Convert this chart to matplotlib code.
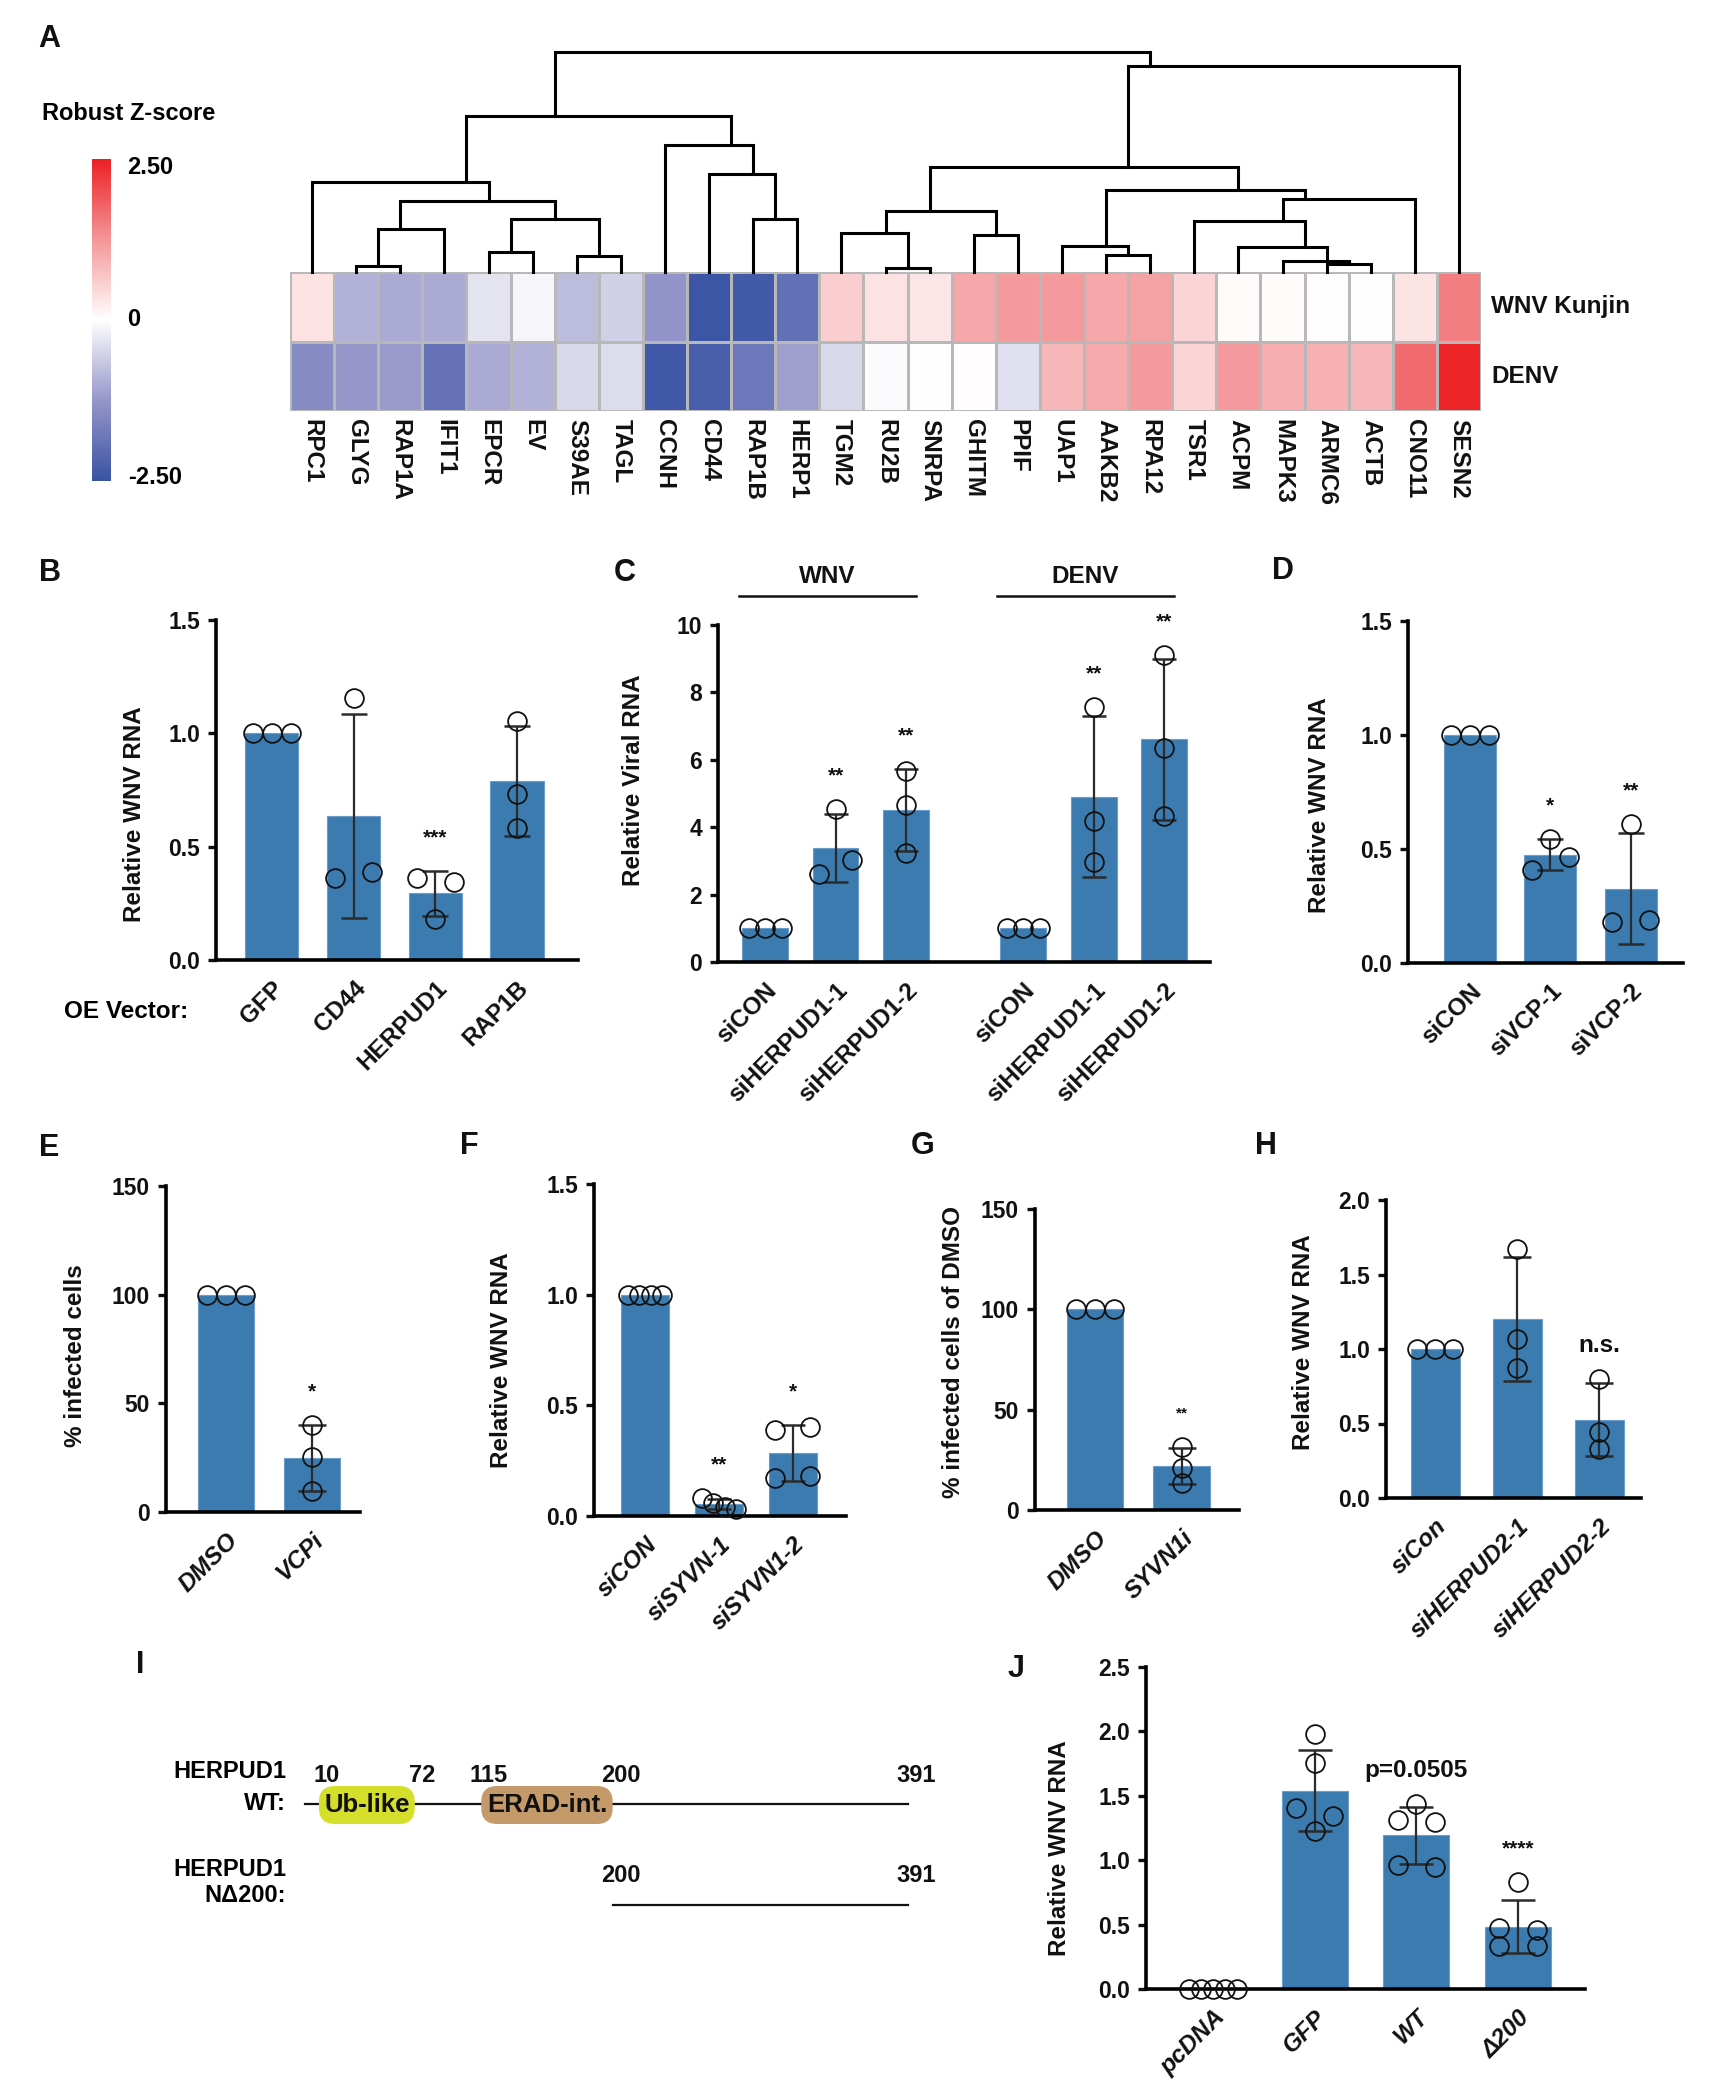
"""Multi-panel HERPUD1 / ERAD figure (A-J), rebuilt from values read off the figure."""

import matplotlib

matplotlib.use("Agg")
import matplotlib.pyplot as plt
import numpy as np
from matplotlib.cm import ScalarMappable
from matplotlib.colors import LinearSegmentedColormap, Normalize
from matplotlib.patches import FancyBboxPatch
from matplotlib.transforms import blended_transform_factory

W, H = 1709, 2100
BAR = "#3b7bb0"
BAR_EDGE = "#6d9ecb"
INK = "#111111"
ERR = "#2b2b2b"

plt.rcParams["font.family"] = ["Liberation Sans", "DejaVu Sans"]
plt.rcParams["font.weight"] = "bold"
plt.rcParams["axes.labelweight"] = "bold"

# --- Panel A: robust Z-scores ---------------------------------------------
GENES = ["RPC1", "GLYG", "RAP1A", "IFIT1", "EPCR", "EV", "S39AE", "TAGL", "CCNH",
         "CD44", "RAP1B", "HERP1", "TGM2", "RU2B", "SNRPA", "GHITM", "PPIF",
         "UAP1", "AAKB2", "RPA12", "TSR1", "ACPM", "MAPK3", "ARMC6", "ACTB",
         "CNO11", "SESN2"]
WNV_Z = [0.35, -0.9, -1.0, -1.0, -0.33, -0.1, -0.8, -0.55, -1.3, -2.45, -2.35,
         -1.95, 0.6, 0.35, 0.3, 1.05, 1.2, 1.2, 1.05, 1.1, 0.5, 0.05, 0.04,
         -0.03, 0.0, 0.32, 1.5]
DENV_Z = [-1.45, -1.25, -1.2, -1.9, -1.0, -0.9, -0.45, -0.42, -2.4, -2.3, -1.8,
          -1.15, -0.45, -0.04, 0.0, 0.03, -0.38, 0.85, 1.0, 1.2, 0.5, 1.2, 0.95,
          0.92, 0.85, 1.7, 2.45]
ROWS = ["WNV Kunjin", "DENV"]
# column dendrogram: (node, left child, right child, merge height)
MERGES = [
    ("a1", 1, 2, 17), ("a2", "a1", 3, 129), ("a3", 4, 5, 61), ("a4", 6, 7, 49),
    ("a5", "a3", "a4", 159), ("a6", "a2", "a5", 211), ("a7", 0, "a6", 270),
    ("b1", 10, 11, 160), ("b2", 9, "b1", 294), ("b3", 8, "b2", 379),
    ("L", "a7", "b3", 468),
    ("c1", 13, 14, 13), ("c2", 12, "c1", 118), ("c3", 15, 16, 112),
    ("c4", "c2", "c3", 183), ("d1", 18, 19, 50), ("d2", 17, "d1", 77),
    ("e1", 23, 24, 23), ("e2", 22, "e1", 32), ("e3", 21, "e2", 75),
    ("e4", 20, "e3", 153), ("e5", "e4", 25, 219), ("d3", "d2", "e5", 245),
    ("c5", "c4", "d3", 315), ("R", "c5", 26, 615),
    ("root", "L", "R", 658),
]

# --- bar panels: individual replicate values --------------------------------
B_LABELS = ["GFP", "CD44", "HERPUD1", "RAP1B"]
B_POINTS = [[1.0, 1.0, 1.0], [1.157, 0.362, 0.389], [0.362, 0.342, 0.181],
            [1.055, 0.732, 0.583]]
B_STARS = ["", "", "***", ""]

C_LABELS = ["siCON", "siHERPUD1-1", "siHERPUD1-2"] * 2
C_POINTS = [[1.0, 1.0, 1.0], [4.53, 2.61, 3.02], [5.66, 4.66, 3.23],
            [1.0, 1.0, 1.0], [7.57, 4.18, 2.96], [9.12, 6.35, 4.34]]
C_STARS = ["", "**", "**", "", "**", "**"]
C_GROUPS = ["WNV", "DENV"]

D_LABELS = ["siCON", "siVCP-1", "siVCP-2"]
D_POINTS = [[1.0, 1.0, 1.0], [0.545, 0.41, 0.467], [0.608, 0.182, 0.188]]
D_STARS = ["", "*", "**"]

E_LABELS = ["DMSO", "VCPi"]
E_POINTS = [[100, 100, 100], [40.0, 25.5, 9.6]]
E_STARS = ["", "*"]

F_LABELS = ["siCON", "siSYVN-1", "siSYVN1-2"]
F_POINTS = [[1.0, 1.0, 1.0, 1.0], [0.08, 0.06, 0.04, 0.03],
            [0.39, 0.40, 0.17, 0.18]]
F_STARS = ["", "**", "*"]

G_LABELS = ["DMSO", "SYVN1i"]
G_POINTS = [[100, 100, 100], [31.5, 21.0, 13.5]]
G_STARS = ["", "**"]

H_LABELS = ["siCon", "siHERPUD2-1", "siHERPUD2-2"]
H_POINTS = [[1.0, 1.0, 1.0], [1.67, 1.07, 0.87], [0.80, 0.445, 0.33]]
H_STARS = ["", "", "n.s."]

J_LABELS = ["pcDNA", "GFP", "WT", "\u0394200"]
J_POINTS = [[0.0, 0.0, 0.0, 0.0, 0.0], [1.98, 1.755, 1.405, 1.34, 1.225],
            [1.44, 1.31, 1.30, 0.96, 0.95], [0.83, 0.47, 0.46, 0.33, 0.33]]
J_STARS = ["", "", "p=0.0505", "****"]

# --- Panel I: HERPUD1 domain map (amino-acid positions) ---------------------
PROTEIN_LEN = 391
DOMAINS = [("Ub-like", 10, 72, "#d5df2b"), ("ERAD-int.", 115, 200, "#c49a6a")]
WT_MARKS = [10, 72, 115, 200, 391]
TRUNC_START = 200


def px_axes(fig, left, top, right, bottom):
    return fig.add_axes([left / W, 1 - bottom / H, (right - left) / W,
                         (bottom - top) / H])


def ftext(fig, x, y, s, **kw):
    fig.text(x / W, 1 - y / H, s, **kw)


def point_offsets(values, px_y, d, bw_px):
    """Pixel x-offsets so that points of nearly equal value sit side by side."""
    values = np.asarray(values, dtype=float)
    order = np.argsort(values, kind="stable")
    clusters, cur = [], [order[0]]
    for i in order[1:]:
        if (values[i] - values[cur[-1]]) * px_y < 0.75 * d:
            cur.append(i)
        else:
            clusters.append(cur)
            cur = [i]
    clusters.append(cur)
    off = np.zeros(len(values))
    for c in clusters:
        c = sorted(c)
        k = len(c)
        if k == 2:
            s = min(d, 0.36 * bw_px)
            off[c[0]], off[c[1]] = -s, s
        elif k > 2:
            step = min(d, 0.72 * bw_px / (k - 1))
            for j, i in enumerate(c):
                off[i] = (j - (k - 1) / 2) * step
    return off


def bar_panel(fig, box, labels, points, stars, ylim, yticks, fmt, ylabel,
              ylabel_at, xlim, positions=None, italic=False, star_size=15,
              width=0.65, ms=13.5):
    left, top, right, bottom = box
    ax = px_axes(fig, left, top, right, bottom)
    x = np.arange(len(labels)) if positions is None else np.asarray(positions)
    ax.set_xlim(*xlim)
    ax.set_ylim(*ylim)
    px_x = ax.bbox.width / (xlim[1] - xlim[0])
    px_y = ax.bbox.height / (ylim[1] - ylim[0])
    d = ms * 100 / 72
    cap = 0.165 * px_x * 72 / 100

    for xi, pts, star in zip(x, points, stars):
        pts = np.asarray(pts, dtype=float)
        mean = pts.mean()
        sd = pts.std(ddof=1)
        ax.bar(xi, mean, width=width, color=BAR, edgecolor=BAR_EDGE,
               linewidth=0.8, zorder=2)
        if sd > 0:
            ax.errorbar(xi, mean, yerr=sd, fmt="none", ecolor=ERR, elinewidth=1.6,
                        capsize=cap, capthick=1.8, zorder=3)
        off = point_offsets(pts, px_y, d, width * px_x) / px_x
        ax.plot(xi + off, pts, "o", ms=ms, mfc="none", mec=INK, mew=1.3,
                zorder=4, clip_on=False)
        if star:
            top_val = max(pts.max(), mean + sd)
            size = star_size if star.startswith("*") else 17.5
            ax.annotate(star, (xi, top_val), xytext=(0, 33),
                        textcoords="offset pixels", ha="center", va="center",
                        fontsize=size, color=INK)

    for side in ("top", "right"):
        ax.spines[side].set_visible(False)
    for side in ("left", "bottom"):
        ax.spines[side].set_linewidth(2.6)
        ax.spines[side].set_color("black")
    ax.set_yticks(yticks)
    ax.set_yticklabels([fmt.format(t) for t in yticks], fontsize=16.5)
    ax.tick_params(axis="y", direction="out", length=5.5, width=2.4, pad=6,
                   colors=INK)
    ax.set_xticks(x)
    ax.set_xticklabels(labels, rotation=45, ha="right", va="top",
                       rotation_mode="anchor", fontsize=17.5,
                       style="italic" if italic else "normal")
    ax.tick_params(axis="x", length=0, pad=12, colors=INK)
    ax.set_ylabel(ylabel, fontsize=17.5, color=INK)
    ax.yaxis.label.set_va("center")
    lx, ly = ylabel_at
    ax.yaxis.set_label_coords((lx - left) / (right - left),
                              (bottom - ly) / (bottom - top))
    ax.set_facecolor("none")
    return ax


def panel_a(fig):
    cmap = LinearSegmentedColormap.from_list(
        "robust_z", [(0, "#3953a4"), (0.25, "#9696ca"), (0.5, "#ffffff"),
                     (0.75, "#f49698"), (1, "#ed2024")])
    norm = Normalize(-2.5, 2.5)
    n = len(GENES)

    ax = px_axes(fig, 290, 272, 1481, 411)
    ax.pcolormesh(np.array([WNV_Z, DENV_Z]), cmap=cmap, norm=norm,
                  edgecolors="#b8b8b8", linewidth=0.8)
    ax.set_xlim(0, n)
    ax.set_ylim(2, 0)
    ax.axis("off")
    for i, gene in enumerate(GENES):
        ax.annotate(gene, (i + 0.5, 2), xytext=(0, -8), textcoords="offset pixels",
                    rotation=-90, ha="center", va="top", fontsize=17.5, color=INK)
    for j, row in enumerate(ROWS):
        ax.annotate(row, (n, j + 0.5), xytext=(10, 0), textcoords="offset pixels",
                    ha="left", va="center", fontsize=17.5, color=INK)

    dax = px_axes(fig, 290, 52, 1481, 272)
    leaves = {i: [i] for i in range(n)}
    height = {i: 0.0 for i in range(n)}
    for node, a, b, h in MERGES:
        xa, xb = np.mean(leaves[a]) + 0.5, np.mean(leaves[b]) + 0.5
        dax.plot([xa, xa, xb, xb], [height[a], h, h, height[b]], color="black",
                 lw=2.2, solid_joinstyle="miter", clip_on=False)
        leaves[node] = leaves[a] + leaves[b]
        height[node] = h
    dax.set_xlim(0, n)
    dax.set_ylim(0, height["root"])
    dax.axis("off")

    cax = px_axes(fig, 92, 159, 111, 481)
    cb = fig.colorbar(ScalarMappable(norm=norm, cmap=cmap), cax=cax)
    cb.outline.set_visible(False)
    cb.set_ticks([])
    ftext(fig, 129, 114, "Robust Z-score", ha="center", va="center", fontsize=17)
    ftext(fig, 127, 167, "2.50", ha="left", va="center", fontsize=17)
    ftext(fig, 127, 319, "0", ha="left", va="center", fontsize=17)
    ftext(fig, 128, 478, "-2.50", ha="left", va="center", fontsize=17)


def panel_i(fig):
    ax = px_axes(fig, 305, 1740, 908, 1940)
    ax.set_xlim(1, PROTEIN_LEN)
    ax.set_ylim(1940, 1740)
    ax.axis("off")
    px_per_aa = ax.bbox.width / (PROTEIN_LEN - 1)
    ax.plot([1, PROTEIN_LEN], [1804, 1804], color=INK, lw=1.6, clip_on=False)
    for name, start, end, color in DOMAINS:
        ax.add_patch(FancyBboxPatch(
            (start, 1786), end - start, 38,
            boxstyle=f"round,pad=0,rounding_size={16 / px_per_aa:.2f}",
            mutation_aspect=px_per_aa, facecolor=color, edgecolor="none",
            zorder=3))
        ax.text((start + end) / 2, 1805, name, ha="center", va="center",
                fontsize=18.5, color=INK, zorder=4)
    for aa in WT_MARKS:
        ax.text(aa + 5, 1775, str(aa), ha="center", va="center", fontsize=17,
                color=INK, clip_on=False)
    ax.plot([TRUNC_START, PROTEIN_LEN], [1905, 1905], color=INK, lw=1.6,
            clip_on=False)
    for aa in (TRUNC_START, PROTEIN_LEN):
        ax.text(aa + 5, 1875, str(aa), ha="center", va="center", fontsize=17,
                color=INK, clip_on=False)
    ftext(fig, 286, 1772, "HERPUD1", ha="right", va="center", fontsize=17)
    ftext(fig, 286, 1804, "WT:", ha="right", va="center", fontsize=17)
    ftext(fig, 286, 1870, "HERPUD1", ha="right", va="center", fontsize=17)
    ftext(fig, 286, 1896, "N\u0394200:", ha="right", va="center", fontsize=17)


fig = plt.figure(figsize=(W / 100, H / 100), dpi=100)
fig.patch.set_facecolor("white")

panel_a(fig)

bar_panel(fig, (216, 620, 578, 960), B_LABELS, B_POINTS, B_STARS, (0, 1.5),
          [0, 0.5, 1.0, 1.5], "{:.1f}", "Relative WNV RNA", (134, 814),
          (-0.685, 3.747))
ftext(fig, 126, 1012, "OE Vector:", ha="center", va="center", fontsize=17.5)

c_pos = np.r_[np.arange(3), 3.66 + np.arange(3)]
ax_c = bar_panel(fig, (718, 625, 1210, 962), C_LABELS, C_POINTS, C_STARS,
                 (0, 10), [0, 2, 4, 6, 8, 10], "{:.0f}", "Relative Viral RNA",
                 (633, 780), (-0.667, 6.31), positions=c_pos)
trans = blended_transform_factory(ax_c.transData, ax_c.transAxes)
for g, name in enumerate(C_GROUPS):
    first, last = c_pos[3 * g], c_pos[3 * g + 2]
    ax_c.plot([first - 0.37, last + 0.14], [1.086, 1.086], color=INK, lw=1.8,
              transform=trans, clip_on=False)
    ax_c.text((first + last) / 2 - 0.115, 1.145, name, transform=trans,
              ha="center", va="center", fontsize=17.5, color=INK)

bar_panel(fig, (1408, 621, 1683, 963), D_LABELS, D_POINTS, D_STARS, (0, 1.5),
          [0, 0.5, 1.0, 1.5], "{:.1f}", "Relative WNV RNA", (1320, 805),
          (-0.77, 2.65))

bar_panel(fig, (166, 1186, 360, 1512), E_LABELS, E_POINTS, E_STARS, (0, 150),
          [0, 50, 100, 150], "{:.0f}", "% infected cells", (75, 1356),
          (-0.70, 1.56), italic=True)
bar_panel(fig, (594, 1184, 846, 1516), F_LABELS, F_POINTS, F_STARS, (0, 1.5),
          [0, 0.5, 1.0, 1.5], "{:.1f}", "Relative WNV RNA", (502, 1360),
          (-0.69, 2.72), italic=True)
bar_panel(fig, (1035, 1209, 1239, 1510), G_LABELS, G_POINTS, G_STARS, (0, 150),
          [0, 50, 100, 150], "{:.0f}", "% infected cells of DMSO", (954, 1352),
          (-0.69, 1.66), italic=True, star_size=11)
bar_panel(fig, (1386, 1200, 1641, 1498), H_LABELS, H_POINTS, H_STARS, (0, 2.0),
          [0, 0.5, 1.0, 1.5, 2.0], "{:.1f}", "Relative WNV RNA", (1303, 1342),
          (-0.60, 2.51), italic=True, width=0.6)
bar_panel(fig, (1146, 1667, 1585, 1989), J_LABELS, J_POINTS, J_STARS, (0, 2.5),
          [0, 0.5, 1.0, 1.5, 2.0, 2.5], "{:.1f}", "Relative WNV RNA",
          (1059, 1848), (-0.66, 3.66), italic=True)

panel_i(fig)

for letter, (lx, ly) in {"A": (49, 39), "B": (50, 573), "C": (625, 573),
                         "D": (1283, 571), "E": (49, 1148), "F": (469, 1146),
                         "G": (923, 1146), "H": (1266, 1146), "I": (140, 1665),
                         "J": (1016, 1669)}.items():
    ftext(fig, lx, ly, letter, ha="center", va="center", fontsize=22, color=INK)

fig.savefig("out.png", dpi=100, facecolor="white")
